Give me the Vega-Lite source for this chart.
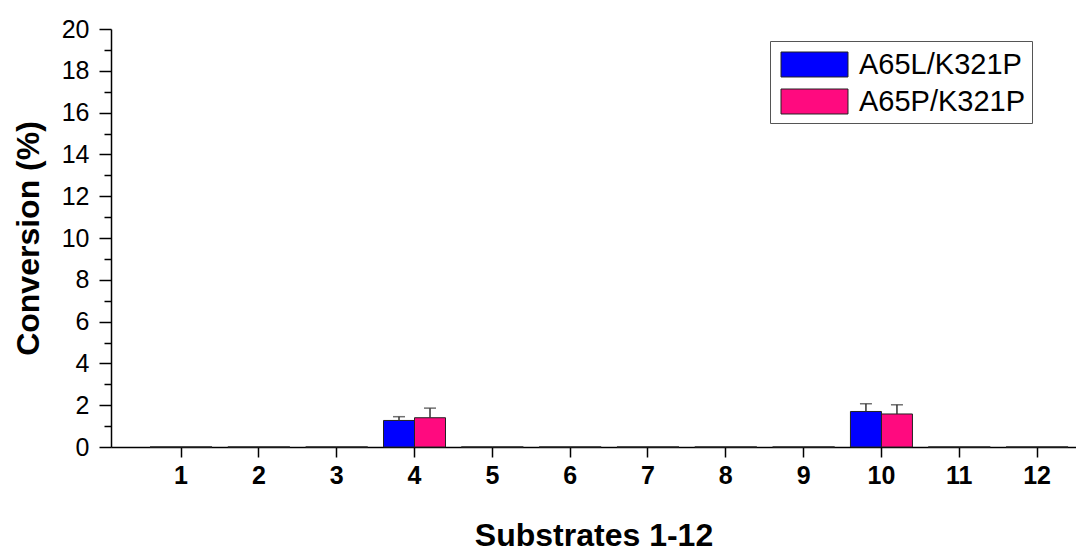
{
  "$schema": "https://vega.github.io/schema/vega-lite/v6.json",
  "width": 965,
  "height": 418,
  "autosize": "none",
  "padding": {"left": 111, "top": 29, "right": 0, "bottom": 107},
  "background": "white",
  "config": {"view": {"stroke": null}, "font": "Liberation Sans"},
  "data": {"values": [
    {"cat": "1", "series": "A65L/K321P", "value": 0, "hi": 0},
    {"cat": "1", "series": "A65P/K321P", "value": 0, "hi": 0},
    {"cat": "2", "series": "A65L/K321P", "value": 0, "hi": 0},
    {"cat": "2", "series": "A65P/K321P", "value": 0, "hi": 0},
    {"cat": "3", "series": "A65L/K321P", "value": 0, "hi": 0},
    {"cat": "3", "series": "A65P/K321P", "value": 0, "hi": 0},
    {"cat": "4", "series": "A65L/K321P", "value": 1.27, "hi": 1.45},
    {"cat": "4", "series": "A65P/K321P", "value": 1.40, "hi": 1.86},
    {"cat": "5", "series": "A65L/K321P", "value": 0, "hi": 0},
    {"cat": "5", "series": "A65P/K321P", "value": 0, "hi": 0},
    {"cat": "6", "series": "A65L/K321P", "value": 0, "hi": 0},
    {"cat": "6", "series": "A65P/K321P", "value": 0, "hi": 0},
    {"cat": "7", "series": "A65L/K321P", "value": 0, "hi": 0},
    {"cat": "7", "series": "A65P/K321P", "value": 0, "hi": 0},
    {"cat": "8", "series": "A65L/K321P", "value": 0, "hi": 0},
    {"cat": "8", "series": "A65P/K321P", "value": 0, "hi": 0},
    {"cat": "9", "series": "A65L/K321P", "value": 0, "hi": 0},
    {"cat": "9", "series": "A65P/K321P", "value": 0, "hi": 0},
    {"cat": "10", "series": "A65L/K321P", "value": 1.70, "hi": 2.07},
    {"cat": "10", "series": "A65P/K321P", "value": 1.58, "hi": 2.02},
    {"cat": "11", "series": "A65L/K321P", "value": 0, "hi": 0},
    {"cat": "11", "series": "A65P/K321P", "value": 0, "hi": 0},
    {"cat": "12", "series": "A65L/K321P", "value": 0, "hi": 0},
    {"cat": "12", "series": "A65P/K321P", "value": 0, "hi": 0}
  ]},
  "encoding": {
    "x": {
      "field": "cat", "type": "ordinal", "sort": null,
      "scale": {"paddingInner": 0, "paddingOuter": 0.2, "align": 1},
      "axis": {
        "title": "Substrates 1-12",
        "titleFont": "Liberation Sans", "titleFontSize": 32, "titleFontWeight": "bold", "titleColor": "black",
        "titleY": 88, "titleBaseline": "middle",
        "labelAngle": 0, "labelFont": "Liberation Sans", "labelFontSize": 25, "labelFontWeight": "bold", "labelColor": "black",
        "labelPadding": 6, "tickSize": 10, "tickColor": "black", "tickWidth": 1.5,
        "domainColor": "black", "domainWidth": 1.5, "grid": false
      }
    }
  },
  "layer": [
    {
      "mark": {"type": "bar", "stroke": "#222", "strokeWidth": 1},
      "encoding": {
        "xOffset": {"field": "series", "type": "nominal", "scale": {"paddingInner": 0, "paddingOuter": 0.255}},
        "y": {
          "field": "value", "type": "quantitative",
          "scale": {"domain": [0, 20], "nice": false, "zero": true},
          "axis": {
            "title": "Conversion (%)",
            "titleFont": "Liberation Sans", "titleFontSize": 32, "titleFontWeight": "bold", "titleColor": "black",
            "titleX": -83, "titleY": 209, "titleAngle": 270, "titleAlign": "center", "titleBaseline": "middle",
            "values": [0, 2, 4, 6, 8, 10, 12, 14, 16, 18, 20],
            "labelFont": "Liberation Sans", "labelFontSize": 25, "labelColor": "black", "labelPadding": 10,
            "tickSize": 12, "tickColor": "black", "tickWidth": 1.5,
            "domainColor": "black", "domainWidth": 1.5, "grid": false
          }
        },
        "color": {
          "field": "series", "type": "nominal",
          "scale": {"domain": ["A65L/K321P", "A65P/K321P"], "range": ["#0000FF", "#FF0A7F"]},
          "legend": {
            "title": null, "orient": "none", "legendX": 659, "legendY": 12,
            "padding": 6, "strokeColor": "#555", "fillColor": "white", "cornerRadius": 0,
            "symbolType": "M-2,-0.746H2V0.746H-2Z", "symbolSize": 1122, "symbolStrokeColor": "#222", "symbolStrokeWidth": 1,
            "symbolOffset": 21,
            "labelFont": "Liberation Sans", "labelFontSize": 29, "labelColor": "black", "labelOffset": 27, "labelLimit": 400,
            "rowPadding": 4
          }
        }
      }
    },
    {
      "transform": [{"filter": "datum.hi > datum.value"}],
      "mark": {"type": "rule", "color": "#333", "strokeWidth": 1.5},
      "encoding": {
        "xOffset": {"field": "series", "type": "nominal", "scale": {"paddingInner": 0, "paddingOuter": 0.255}},
        "y": {"field": "value", "type": "quantitative", "scale": {"domain": [0, 20], "nice": false, "zero": true}, "axis": null},
        "y2": {"field": "hi"}
      }
    },
    {
      "transform": [{"filter": "datum.hi > datum.value"}],
      "mark": {"type": "tick", "color": "#333", "thickness": 1.5, "size": 12, "orient": "horizontal"},
      "encoding": {
        "xOffset": {"field": "series", "type": "nominal", "scale": {"paddingInner": 0, "paddingOuter": 0.255}},
        "y": {"field": "hi", "type": "quantitative", "scale": {"domain": [0, 20], "nice": false, "zero": true}, "axis": null}
      }
    },
    {
      "mark": {"type": "point", "opacity": 0},
      "encoding": {
        "y": {
          "field": "value", "type": "quantitative",
          "scale": {"domain": [0, 20], "nice": false, "zero": true},
          "axis": {
            "orient": "left", "title": null, "labels": false, "domain": false, "grid": false,
            "values": [1, 3, 5, 7, 9, 11, 13, 15, 17, 19],
            "tickSize": 7, "tickColor": "black", "tickWidth": 1.5
          }
        }
      }
    }
  ],
  "resolve": {"scale": {"y": "independent"}}
}
